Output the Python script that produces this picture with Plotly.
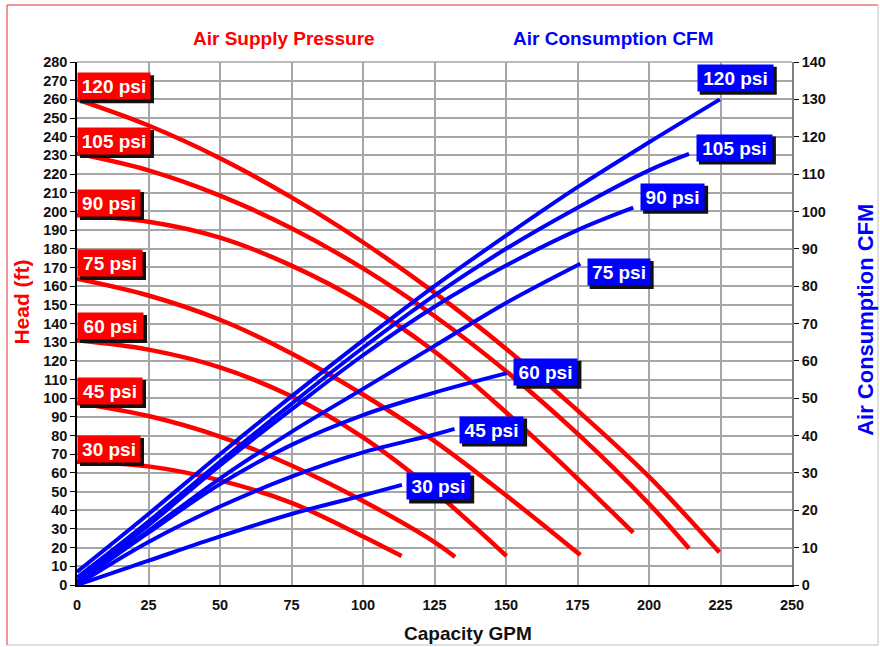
import plotly.graph_objects as go

# ---------------- data ----------------
gpm_ticks = [0, 25, 50, 75, 100, 125, 150, 175, 200, 225, 250]
head_ticks = list(range(0, 281, 10))
cfm_ticks = list(range(0, 141, 10))

psi_labels = ["120 psi", "105 psi", "90 psi", "75 psi", "60 psi", "45 psi", "30 psi"]

# Head (ft) vs capacity (GPM)
head_q_120 = [0, 25, 50, 75, 100, 125, 150, 175, 200, 224.6]
head_120 = [260, 246, 228.5, 207.5, 183.5, 156.5, 126.5, 93.5, 58, 17.5]
head_q_105 = [0, 25, 50, 75, 100, 125, 150, 175, 200, 214]
head_105 = [231, 222, 208.5, 191, 169.5, 144, 114.5, 81, 43.5, 19.5]
head_q_90 = [0, 25, 50, 75, 100, 125, 150, 175, 194.5]
head_90 = [198, 194.5, 186, 171, 151, 125, 92.5, 57, 28]
head_q_75 = [0, 25, 50, 75, 100, 125, 150, 176]
head_75 = [164, 155, 142, 124, 102, 77, 48, 16]
head_q_60 = [0, 25, 50, 75, 100, 125, 150.2]
head_60 = [131, 126, 116.5, 101, 79, 50, 15.5]
head_q_45 = [0, 25, 50, 75, 100, 125, 132.2]
head_45 = [97.5, 90.5, 79.5, 64, 45, 23, 15]
head_q_30 = [0, 25, 50, 75, 100, 113.5]
head_30 = [66, 63.5, 56, 44, 26, 15.5]

# Air consumption (CFM) vs capacity (GPM)
cfm_q_120 = [0, 25, 50, 75, 100, 125, 150, 175, 200, 224.8]
cfm_120 = [3.5, 19, 35, 50.5, 65.5, 80, 93.5, 106.5, 118.5, 130]
cfm_q_105 = [0, 25, 50, 75, 100, 125, 150, 175, 200, 214]
cfm_105 = [2, 17, 33, 48.5, 63.5, 77.5, 90, 101, 111, 115.4]
cfm_q_90 = [0, 25, 50, 75, 100, 125, 150, 175, 194.5]
cfm_90 = [1, 16, 32, 47, 61.5, 74.5, 85.5, 95, 101]
cfm_q_75 = [0, 25, 50, 75, 100, 125, 150, 176]
cfm_75 = [0.5, 14.5, 28.5, 41, 52.5, 64, 75.5, 86]
cfm_q_60 = [0, 25, 50, 75, 100, 125, 150.3]
cfm_60 = [0.5, 14, 27, 37.5, 45.5, 51.5, 56.7]
cfm_q_45 = [0, 25, 50, 75, 100, 125, 132]
cfm_45 = [0, 11.5, 21, 29, 35.5, 40.3, 41.8]
cfm_q_30 = [0, 25, 50, 75, 100, 113.6]
cfm_30 = [0, 6.5, 13, 19, 24, 26.8]

head_series = [(head_q_120, head_120), (head_q_105, head_105), (head_q_90, head_90),
               (head_q_75, head_75), (head_q_60, head_60), (head_q_45, head_45),
               (head_q_30, head_30)]
cfm_series = [(cfm_q_120, cfm_120), (cfm_q_105, cfm_105), (cfm_q_90, cfm_90),
              (cfm_q_75, cfm_75), (cfm_q_60, cfm_60), (cfm_q_45, cfm_45),
              (cfm_q_30, cfm_30)]

# ---------------- styling ----------------
RED = "#ff0000"
BLUE = "#0000ff"
FONT = "Liberation Sans, Arial, sans-serif"

fig = go.Figure()

for (q, h), name in zip(head_series, psi_labels):
    fig.add_trace(go.Scatter(x=q, y=h, mode="lines", name=name,
                             line=dict(color=RED, width=4.5, shape="spline", smoothing=1.0),
                             yaxis="y", hoverinfo="skip"))
for (q, c), name in zip(cfm_series, psi_labels):
    fig.add_trace(go.Scatter(x=q, y=c, mode="lines", name=name,
                             line=dict(color=BLUE, width=4, shape="spline", smoothing=1.0),
                             yaxis="y2", hoverinfo="skip"))

annotations = []
shapes = []

BOX_H = 22
PAD = 2

def label(text, x, y, yref, color, width):
    total_w = width + 2 * PAD + 2
    total_h = BOX_H + 2 * PAD + 2
    # drop shadow (pixel-sized rectangle anchored at the label position)
    shapes.append(dict(type="rect", xref="x", yref=yref, layer="above",
                       xsizemode="pixel", ysizemode="pixel", xanchor=x, yanchor=y,
                       x0=3, x1=3 + total_w, y0=-total_h / 2 - 3, y1=total_h / 2 - 3,
                       fillcolor="#111111", line=dict(width=0)))
    annotations.append(dict(text=text, x=x, y=y, xref="x", yref=yref, xanchor="left",
                            yanchor="middle", showarrow=False, bgcolor=color,
                            font=dict(family=FONT, size=19, color="white", weight="bold"),
                            borderpad=PAD, width=width, height=BOX_H))

# red (left) labels : anchored on the head axis
red_y = [267, 237.7, 204.5, 172.4, 138.7, 103.9, 72.8]
red_w = [68, 68, 58, 60, 61, 60, 58]
for t, y, w in zip(psi_labels, red_y, red_w):
    label(t, 0, y, "y", RED, w)

# blue (right) labels : anchored on the CFM axis
blue_x = [216.7, 216.4, 196.9, 178.2, 152.6, 133.6, 115.1]
blue_y = [135.8, 117.1, 103.9, 83.8, 57.1, 41.6, 26.4]
blue_w = [71, 71, 59, 58, 59, 59, 59]
for t, x, y, w in zip(psi_labels, blue_x, blue_y, blue_w):
    label(t, x, y, "y2", BLUE, w)

def title(text, x, y, size, color, angle=0):
    return dict(text=text, x=x, y=y, xref="paper", yref="paper", xanchor="center",
                yanchor="middle", textangle=angle, showarrow=False,
                font=dict(family=FONT, size=size, color=color, weight="bold"))

annotations += [
    title("Air Supply Pressure", 0.2895, 1.044, 19, RED),
    title("Air Consumption CFM", 0.7505, 1.044, 19, BLUE),
    title("Head (ft)", -0.0769, 0.54, 21, RED, -90),
    title("Air Consumption CFM", 1.1035, 0.507, 22, BLUE, -90),
    title("Capacity GPM", 0.547, -0.0918, 19, "#111111"),
]

# page frame and top grid line
shapes += [
    dict(type="line", xref="paper", yref="paper", x0=-0.0979, x1=1.1203, y0=1.109, y1=1.109,
         line=dict(color="#e03030", width=1)),
    dict(type="line", xref="paper", yref="paper", x0=-0.0979, x1=-0.0979, y0=-0.1147, y1=1.109,
         line=dict(color="#e03030", width=1)),
    dict(type="line", xref="paper", yref="paper", x0=1.1203, x1=1.1203, y0=-0.1147, y1=1.109,
         line=dict(color="#c0c0c0", width=1)),
    dict(type="line", xref="paper", yref="paper", x0=-0.0979, x1=1.1203, y0=-0.1147, y1=-0.1147,
         line=dict(color="#c0c0c0", width=1)),
    dict(type="line", xref="paper", yref="paper", x0=0, x1=1, y0=1, y1=1, layer="below",
         line=dict(color="#a6a6a6", width=1.5)),
]

tickfont = dict(family=FONT, size=14.5, color="#111111", weight="bold")

fig.update_layout(
    width=880, height=647,
    margin=dict(l=77, r=88, t=62, b=62, autoexpand=False),
    paper_bgcolor="white", plot_bgcolor="white",
    showlegend=False,
    annotations=annotations,
    shapes=shapes,
    xaxis=dict(range=[0, 250], tickvals=gpm_ticks, ticktext=[str(v) for v in gpm_ticks],
               showgrid=True, gridcolor="#a6a6a6", gridwidth=1.5, zeroline=False,
               showline=True, linecolor="#000000", linewidth=1.5, ticks="",
               ticklabelstandoff=6, tickfont=tickfont, fixedrange=True),
    yaxis=dict(range=[0, 280], tickvals=head_ticks, ticktext=[str(v) for v in head_ticks],
               showgrid=True, gridcolor="#a6a6a6", gridwidth=1.5, zeroline=False,
               showline=True, linecolor="#000000", linewidth=1.5, ticks="outside",
               ticklen=5, tickcolor="#000000", tickfont=tickfont, fixedrange=True),
    yaxis2=dict(range=[0, 140], tickvals=cfm_ticks, ticktext=[str(v) for v in cfm_ticks],
                overlaying="y", side="right", showgrid=False, zeroline=False,
                showline=True, linecolor="#808080", linewidth=1.5, ticks="outside",
                ticklen=5, tickcolor="#000000", tickfont=tickfont, fixedrange=True),
)

fig.write_html("out.html", config={"displayModeBar": False},
               post_script="document.body.style.margin='0px';document.body.style.overflow='hidden';")
